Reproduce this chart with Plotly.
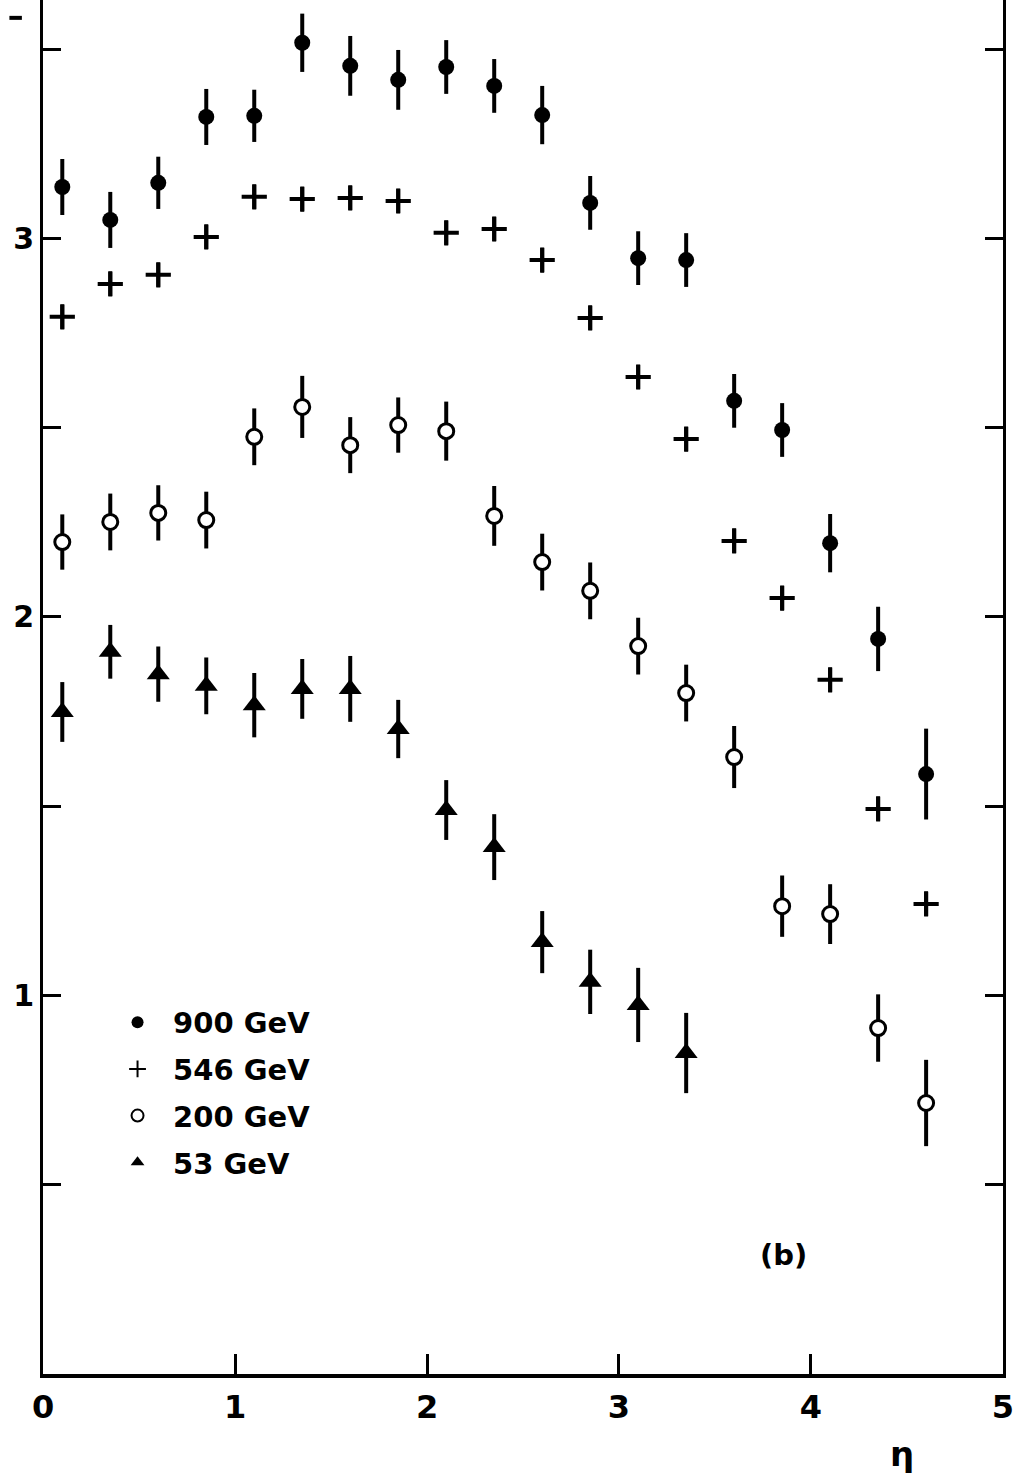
import plotly.graph_objects as go

# pseudorapidity bins
eta = [0.1, 0.35, 0.6, 0.85, 1.1, 1.35, 1.6, 1.85, 2.1, 2.35, 2.6, 2.85,
       3.1, 3.35, 3.6, 3.85, 4.1, 4.35, 4.6]

# 900 GeV (filled circles)
y900 = [3.136, 3.049, 3.147, 3.321, 3.324, 3.517, 3.456, 3.419, 3.453, 3.403,
        3.326, 3.094, 2.948, 2.943, 2.571, 2.494, 2.195, 1.942, 1.585]
e900 = [0.074, 0.074, 0.069, 0.074, 0.069, 0.077, 0.079, 0.079, 0.071, 0.071,
        0.077, 0.071, 0.071, 0.071, 0.071, 0.071, 0.077, 0.085, 0.120]

# 546 GeV (crosses)
y546 = [2.793, 2.880, 2.904, 3.004, 3.110, 3.104, 3.107, 3.099, 3.015, 3.025,
        2.943, 2.790, 2.634, 2.470, 2.201, 2.050, 1.834, 1.493, 1.242]
e546 = [0.032] * 19

# 200 GeV (open circles)
y200 = [2.198, 2.251, 2.275, 2.256, 2.476, 2.555, 2.454, 2.507, 2.491, 2.267,
        2.145, 2.069, 1.923, 1.799, 1.630, 1.236, 1.215, 0.914, 0.716]
e200 = [0.073, 0.075, 0.073, 0.075, 0.075, 0.082, 0.074, 0.073, 0.078, 0.079,
        0.075, 0.075, 0.075, 0.075, 0.082, 0.081, 0.079, 0.089, 0.114]

# 53 GeV (filled triangles)
eta53 = [0.1, 0.35, 0.6, 0.85, 1.1, 1.35, 1.6, 1.85, 2.1, 2.35, 2.6, 2.85, 3.1, 3.35]
y53 = [1.749, 1.908, 1.849, 1.818, 1.767, 1.810, 1.810, 1.704, 1.490, 1.392,
       1.141, 1.036, 0.975, 0.848]
e53 = [0.079, 0.071, 0.073, 0.075, 0.085, 0.079, 0.087, 0.077, 0.079, 0.087,
       0.082, 0.085, 0.098, 0.106]

labels = ["900 GeV", "546 GeV", "200 GeV", "53 GeV"]
xticks = [0, 1, 2, 3, 4, 5]
yticks = [0.5, 1, 1.5, 2, 2.5, 3, 3.5]
yticktext = ["", "1", "", "2", "", "3", ""]

FONT = "DejaVu Sans"
BLACK = "black"

def err(vals):
    return dict(type="data", array=vals, visible=True, color=BLACK,
                thickness=4, width=0)

fig = go.Figure()
fig.add_trace(go.Scatter(
    x=eta, y=y900, mode="markers", name=labels[0], legendgroup="a",
    error_y=err(e900),
    marker=dict(symbol="circle", size=16, color=BLACK,
                line=dict(color=BLACK, width=0))))
fig.add_trace(go.Scatter(
    x=eta, y=y546, mode="markers", name=labels[1], legendgroup="b",
    error_y=err(e546),
    marker=dict(symbol="cross-thin", size=18, color=BLACK,
                line=dict(color=BLACK, width=4))))
fig.add_trace(go.Scatter(
    x=eta, y=y200, mode="markers", name=labels[2], legendgroup="c",
    error_y=err(e200),
    marker=dict(symbol="circle", size=15, color="white",
                line=dict(color=BLACK, width=3))))
fig.add_trace(go.Scatter(
    x=eta53, y=y53, mode="markers", name=labels[3], legendgroup="d",
    error_y=err(e53),
    marker=dict(symbol="triangle-up", size=20, color=BLACK,
                line=dict(color=BLACK, width=0))))

fig.update_layout(
    width=1014, height=1477,
    margin=dict(l=43, r=9, t=0, b=103),
    paper_bgcolor="white", plot_bgcolor="white",
    font=dict(family=FONT, size=29, color=BLACK),
    showlegend=True,
    legend=dict(x=0.0615, y=0.2745, xanchor="left", yanchor="top",
                bgcolor="rgba(0,0,0,0)", borderwidth=0,
                font=dict(family=FONT, size=29, color=BLACK, weight="bold"),
                itemsizing="constant", tracegroupgap=6,
                traceorder="grouped", itemwidth=61),
    xaxis=dict(range=[-0.0005, 5.0005], showgrid=False, zeroline=False,
               showline=True, linecolor=BLACK, linewidth=4, mirror=False,
               ticks="inside", ticklen=20, tickwidth=3, tickcolor=BLACK,
               tickvals=xticks, ticktext=[str(v) for v in xticks],
               tickfont=dict(family=FONT, size=32, color=BLACK, weight="bold"),
               ticklabelstandoff=2, ticklabeloverflow="allow"),
    yaxis=dict(range=[0, 3.630], showgrid=False, zeroline=False,
               showline=True, linecolor=BLACK, linewidth=3, mirror="ticks",
               ticks="inside", ticklen=18, tickwidth=3, tickcolor=BLACK,
               tickvals=yticks, ticktext=yticktext,
               tickfont=dict(family=FONT, size=30, color=BLACK, weight="bold")),
    annotations=[
        dict(x=3.857, y=0.314, xref="x", yref="y", text="(b)",
             showarrow=False,
             font=dict(family=FONT, size=29, color=BLACK, weight="bold")),
        dict(x=(918 - 43) / 962, y=-(1476 - 1374) / 1374,
             xref="paper", yref="paper", text="η",
             showarrow=False,
             font=dict(family=FONT, size=34, color=BLACK, weight="bold")),
    ],
    shapes=[
        dict(type="line", xref="paper", yref="paper",
             x0=-0.035, x1=-0.022, y0=0.987, y1=0.987,
             line=dict(color=BLACK, width=4)),
    ],
)

fig.write_html("out.html")
